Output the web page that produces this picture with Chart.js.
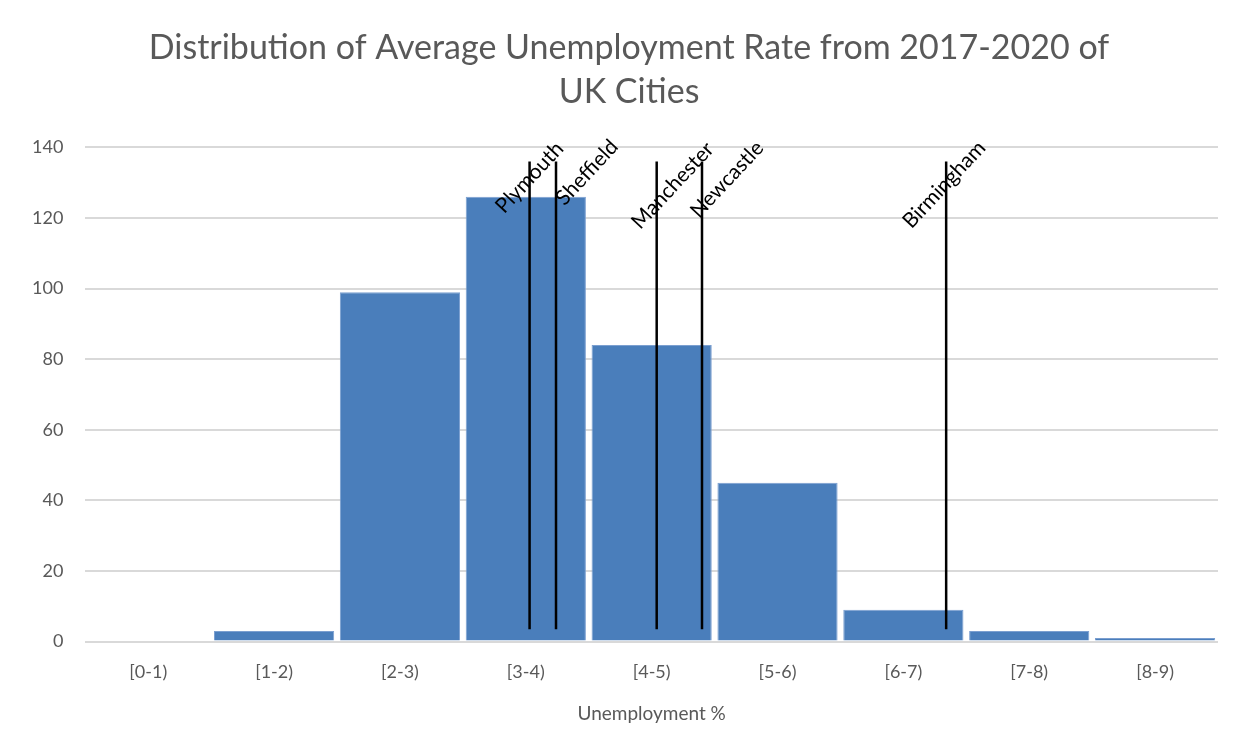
<!DOCTYPE html>
<html>
<head>
<meta charset="utf-8">
<script src="https://cdn.jsdelivr.net/npm/chart.js@4.4.0/dist/chart.umd.min.js"></script>
<style>
  html, body { margin: 0; padding: 0; background: #fff; }
  #wrap { width: 1242px; height: 754px; }
</style>
</head>
<body>
<div id="wrap"><canvas id="hist" width="1242" height="754"></canvas></div>
<script>
// histogram bins and counts
const bins = ['[0-1)', '[1-2)', '[2-3)', '[3-4)', '[4-5)', '[5-6)', '[6-7)', '[7-8)', '[8-9)'];
const counts = [0, 3, 99, 126, 84, 45, 9, 3, 1];

// marker lines for individual cities (unemployment %)
const cities = ['Plymouth', 'Sheffield', 'Manchester', 'Newcastle', 'Birmingham'];
const cityRates = [3.53, 3.74, 4.54, 4.90, 6.84];
const markerBottom = 3.5;
const markerTop = 136;

// where each city name sits relative to the top of its line (px)
const labelOffsets = [[0, 16], [31, 11], [16, 24], [25, 18], [-2, 23]];

const FONT = 'Lato, "Open Sans", sans-serif';
const GREY = '#595959';

const cityDatasets = cities.map((name, i) => ({
    type: 'line',
    label: name,
    xAxisID: 'x2',
    data: [{x: cityRates[i], y: markerBottom}, {x: cityRates[i], y: markerTop}],
    borderColor: '#000',
    borderWidth: 2.5,
    pointRadius: 0,
    order: 1
}));

// rotated city names at the top of each marker line
const cityLabels = {
    id: 'cityLabels',
    afterLayout(chart) {
        // nudge the title so it sits over the plot rather than the canvas
        const t = chart.titleBlock;
        if (t) { t.left += 15; t.right += 15; }
    },
    afterDatasetsDraw(chart) {
        const ctx = chart.ctx;
        ctx.save();
        ctx.font = '21px ' + FONT;
        ctx.fillStyle = '#000';
        ctx.textAlign = 'center';
        ctx.textBaseline = 'middle';
        chart.data.datasets.forEach((ds, i) => {
            if (ds.type !== 'line') return;
            const top = chart.getDatasetMeta(i).data[1];
            const k = i - 1;
            ctx.save();
            ctx.translate(top.x + labelOffsets[k][0], top.y + labelOffsets[k][1]);
            ctx.rotate(-47 * Math.PI / 180);
            ctx.fillText(ds.label, 0, 0);
            ctx.restore();
        });
        ctx.restore();
    }
};

new Chart(document.getElementById('hist').getContext('2d'), {
    type: 'bar',
    data: {
        labels: bins,
        datasets: [{
            label: 'Cities',
            data: counts,
            backgroundColor: '#4a7ebb',
            borderColor: '#7b9fd0',
            borderWidth: 1,
            categoryPercentage: 1,
            barPercentage: 0.955,
            grouped: false,
            order: 2
        }].concat(cityDatasets)
    },
    options: {
        responsive: false,
        animation: false,
        layout: {padding: {left: 10, right: 24, top: 26, bottom: 25}},
        plugins: {
            legend: {display: false},
            tooltip: {enabled: false},
            title: {
                display: true,
                text: ['Distribution of Average Unemployment Rate from 2017-2020 of', 'UK Cities'],
                color: GREY,
                font: {family: FONT, size: 34, weight: 'normal', lineHeight: 1.3},
                padding: {top: 0, bottom: 33}
            }
        },
        scales: {
            x: {
                grid: {display: false},
                border: {display: false},
                ticks: {color: GREY, font: {family: FONT, size: 18}, padding: 12},
                title: {display: true, text: 'Unemployment %', color: GREY,
                        font: {family: FONT, size: 19}, padding: {top: 7}}
            },
            x2: {
                type: 'linear',
                display: false,
                offset: false,
                grid: {offset: false},
                min: 0,
                max: 9
            },
            y: {
                min: 0,
                max: 140,
                ticks: {stepSize: 20, color: GREY, font: {family: FONT, size: 18}, padding: 22},
                grid: {color: '#d9d9d9', lineWidth: 2, drawTicks: false},
                border: {display: false}
            }
        }
    },
    plugins: [cityLabels]
});
</script>
</body>
</html>
